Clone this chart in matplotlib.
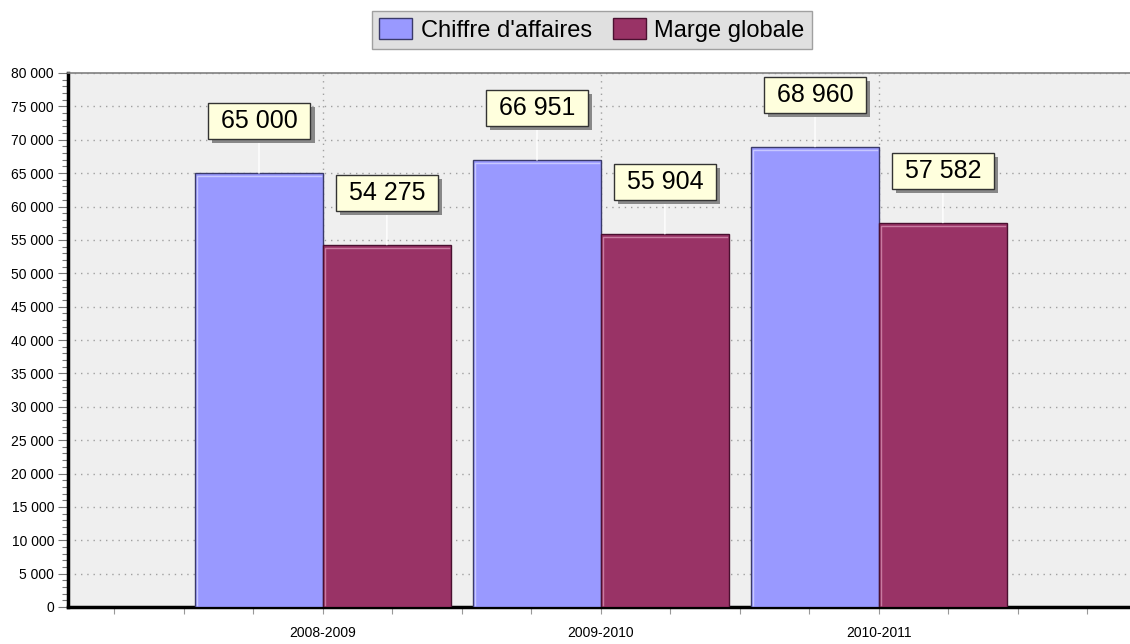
import matplotlib.pyplot as plt
import matplotlib.patheffects as pe
from matplotlib.ticker import MultipleLocator, FuncFormatter
import numpy as np

plt.rcParams['font.family'] = ['Liberation Sans', 'DejaVu Sans']

# data
periods = ['2008-2009', '2009-2010', '2010-2011']
chiffre = [65000, 66951, 68960]
marge = [54275, 55904, 57582]
series_names = ["Chiffre d'affaires", "Marge globale"]

blue = '#9999ff'
maroon = '#993366'

def fmt_thousands(v, pos=None):
    return f"{int(round(v)):,}".replace(',', ' ')

fig = plt.figure(figsize=(11.3, 6.44), dpi=100)
ax = fig.add_axes([68/1130, 37/644, 1 - 68/1130, (607-73)/644])
ax.set_facecolor('#efefef')

x = np.arange(len(periods))
w = 0.46
b1 = ax.bar(x - w/2, chiffre, w, color=blue, edgecolor='#3a3a6a', linewidth=1, zorder=3,
            label=series_names[0])
b2 = ax.bar(x + w/2, marge, w, color=maroon, edgecolor='#4a1030', linewidth=1, zorder=3,
            label=series_names[1])

# light inner highlight on bars
for bars, hl in ((b1, '#c8c8ff'), (b2, '#c87aa0')):
    for r in bars:
        x0, y0 = r.get_x(), r.get_y()
        ax.plot([x0 + 0.006, x0 + 0.006, x0 + r.get_width() - 0.006],
                [y0 + 300, r.get_height() - 450, r.get_height() - 450],
                color=hl, lw=1, zorder=4)

ax.set_xlim(-0.917, 2.903)
ax.set_ylim(0, 80000)
ax.yaxis.set_major_locator(MultipleLocator(5000))
ax.yaxis.set_minor_locator(MultipleLocator(1000))
ax.yaxis.set_major_formatter(FuncFormatter(fmt_thousands))
ax.set_xticks(x)
ax.set_xticklabels(periods)
ax.xaxis.set_minor_locator(MultipleLocator(0.25))

ax.tick_params(axis='y', which='major', length=7, width=0.8, color='#777777',
               labelsize=10, pad=3)
ax.tick_params(axis='y', which='minor', length=4, width=0.8, color='#777777')
ax.tick_params(axis='x', which='both', length=5, width=0.8, color='#999999',
               labelsize=10, pad=9)

ax.grid(True, which='major', linestyle=(0, (1, 3.5)), color='#a0a0a0', linewidth=1, zorder=0)
ax.set_axisbelow(True)

ax.spines['left'].set_linewidth(2.5)
ax.spines['bottom'].set_linewidth(2.5)
ax.spines['left'].set_color('black')
ax.spines['bottom'].set_color('black')
ax.spines['top'].set_color('#808080')
ax.spines['top'].set_linewidth(1.2)
ax.spines['right'].set_visible(False)

# value labels in boxes with a drop shadow
shadow = [pe.SimplePatchShadow(offset=(3, -3), shadow_rgbFace='#888888', alpha=1), pe.Normal()]
for bars, vals in ((b1, chiffre), (b2, marge)):
    for r, v in zip(bars, vals):
        cx = r.get_x() + r.get_width()/2
        t = ax.annotate(' ' + fmt_thousands(v) + ' ', xy=(cx, v), xytext=(0, 37.5),
                        textcoords='offset points', ha='center', va='center',
                        fontsize=18, color='black',
                        bbox=dict(boxstyle='square,pad=0.24', fc='#ffffdd', ec='#333333', lw=1),
                        arrowprops=dict(arrowstyle='-', color='white', lw=1,
                                        shrinkA=0, shrinkB=0),
                        zorder=6)
        t.get_bbox_patch().set_path_effects(shadow)

leg = fig.legend(handles=[b1, b2], labels=series_names, loc='center',
                 bbox_to_anchor=(592/1130, 1 - 30/644), ncol=2, fontsize=17,
                 fancybox=False, frameon=True, handlelength=1.4, handleheight=1.0,
                 handletextpad=0.35, columnspacing=0.9, borderpad=0.3, borderaxespad=0)
leg.get_frame().set_facecolor('#e0e0e0')
leg.get_frame().set_edgecolor('#a0a0a0')
leg.get_frame().set_alpha(1)

fig.savefig('out.png', dpi=100)
